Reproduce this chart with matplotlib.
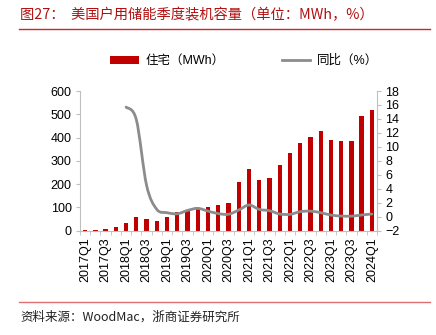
import matplotlib
matplotlib.use("Agg")
import matplotlib.pyplot as plt
import numpy as np
from matplotlib.path import Path
from matplotlib.patches import PathPatch, Patch
from matplotlib.lines import Line2D

plt.rcParams['font.family'] = ['Liberation Sans', 'Noto Sans CJK SC', 'DejaVu Sans']

quarters = [f"{y}Q{q}" for y in range(2017, 2024) for q in range(1, 5)] + ["2024Q1"]
residential = [3, 5, 8, 18, 35, 60, 50, 43, 57, 80, 85, 95, 100, 110, 118, 210,
               265, 218, 226, 282, 335, 377, 404, 428, 390, 384, 384, 491, 519]
yoy = [None, None, None, None, 15.7, 13.9, 4.5, 1.05, 0.58, 0.42, 0.9, 1.2, 0.8,
       0.45, 0.35, 0.96, 1.68, 1.05, 0.86, 0.39, 0.34, 0.72, 0.8, 0.58, 0.24,
       0.1, 0.08, 0.25, 0.39]
tick_labels = quarters[::2]

RED = '#C00000'
GREY = '#8C8C8C'
SPINE = '#BFBFBF'

fig = plt.figure(figsize=(4.36, 3.35), dpi=100)
ax = fig.add_axes([80/436, 1-230.7/335, (377-80)/436, (230.7-91)/335])
x = np.arange(len(quarters))
ax.bar(x, residential, width=0.42, color=RED, zorder=2)
ax.set_xlim(-0.5, len(quarters)-0.5)
ax.set_ylim(0, 600)
ax.set_yticks(range(0, 601, 100))
ax.set_xticks(x[::2])
ax.set_xticklabels(tick_labels, rotation=90, fontsize=9)
ax.set_xticks(np.arange(-0.5, len(quarters), 1), minor=True)
ax.tick_params(axis='x', which='major', length=0, pad=5)
ax.tick_params(axis='x', which='minor', length=3, color=SPINE, direction='out')
ax.tick_params(axis='y', length=3, color=SPINE, labelsize=9, pad=3)
for s in ['top', 'right']:
    ax.spines[s].set_visible(False)
for s in ['left', 'bottom']:
    ax.spines[s].set_color(SPINE)

ax2 = ax.twinx()
ax2.set_ylim(-2, 18)
ax2.set_yticks(range(-2, 19, 2))
ax2.tick_params(axis='y', length=3, color=SPINE, labelsize=9, pad=3)
for s in ['top', 'left', 'bottom']:
    ax2.spines[s].set_visible(False)
ax2.spines['right'].set_color(SPINE)

# smoothed line (Catmull-Rom -> cubic Bezier) through the data points
pts = [(i, v) for i, v in enumerate(yoy) if v is not None]
P = np.array(pts, dtype=float)
verts = [tuple(P[0])]
codes = [Path.MOVETO]
n = len(P)
for i in range(n - 1):
    p0 = P[i - 1] if i > 0 else P[i]
    p1 = P[i]
    p2 = P[i + 1]
    p3 = P[i + 2] if i + 2 < n else P[i + 1]
    c1 = p1 + (p2 - p0) / 6.0
    c2 = p2 - (p3 - p1) / 6.0
    verts += [tuple(c1), tuple(c2), tuple(p2)]
    codes += [Path.CURVE4] * 3
ax2.add_patch(PathPatch(Path(verts, codes), facecolor='none', edgecolor=GREY,
                        lw=2.0, zorder=3, capstyle='round', joinstyle='round'))

handles = [Patch(facecolor=RED, edgecolor='none'), Line2D([], [], color=GREY, lw=2.0)]
fig.legend(handles, ['住宅（MWh）', '同比（%）'], loc='center', bbox_to_anchor=(244/436, 1-61/335),
           ncol=2, frameon=False, fontsize=9, handlelength=2.3, handleheight=0.6,
           columnspacing=4.6, handletextpad=0.5)

# title, rules, source
fig.text(20/436, 1-15/335, '图27：  美国户用储能季度装机容量（单位：MWh，%）', color='#B01010',
         fontsize=10.3, va='center', ha='left', family=['Noto Sans CJK SC', 'DejaVu Sans'])
fig.add_artist(Line2D([19/436, 430/436], [1-28.5/335, 1-28.5/335], color='#C82828', lw=1.0))
fig.add_artist(Line2D([19/436, 430/436], [1-302/335, 1-302/335], color='#E07070', lw=1.0))
fig.text(20/436, 1-317/335, '资料来源：WoodMac，浙商证券研究所', color='#222222',
         fontsize=9, va='center', ha='left', family=['Noto Sans CJK SC', 'DejaVu Sans'])

fig.savefig('out.png', dpi=100)
